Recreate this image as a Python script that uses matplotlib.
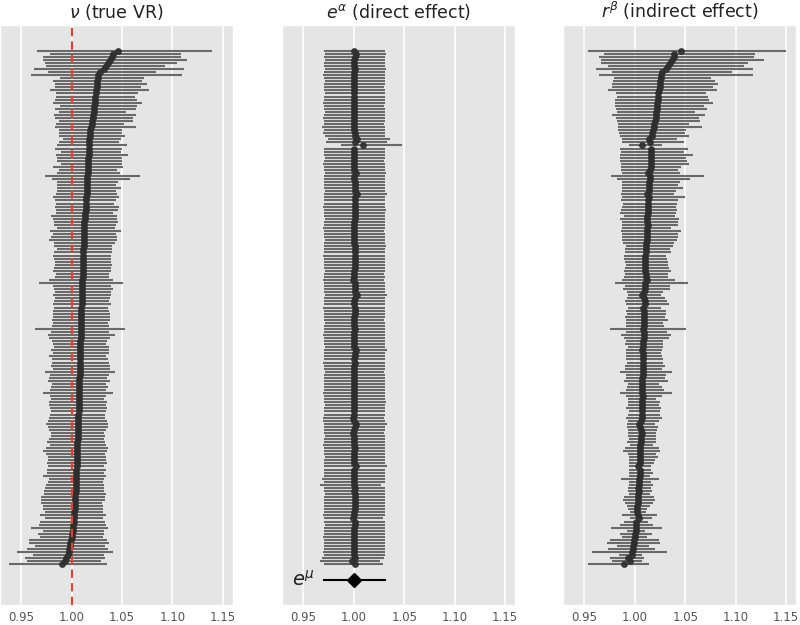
import matplotlib.pyplot as plt
import numpy as np

# nu (true VR): point estimate and interval, one row per unit, top row first
nu = [1.0459, 1.0409, 1.0396, 1.0376, 1.0360, 1.0337, 1.0317, 1.0277, 1.0264, 1.0257,
      1.0254, 1.0251, 1.0248, 1.0244, 1.0241, 1.0234, 1.0231, 1.0228, 1.0224, 1.0221,
      1.0218, 1.0215, 1.0211, 1.0205, 1.0198, 1.0191, 1.0185, 1.0182, 1.0178, 1.0176,
      1.0175, 1.0173, 1.0172, 1.0170, 1.0168, 1.0167, 1.0165, 1.0164, 1.0162, 1.0161,
      1.0158, 1.0157, 1.0155, 1.0154, 1.0152, 1.0151, 1.0149, 1.0148, 1.0145, 1.0144,
      1.0142, 1.0139, 1.0138, 1.0135, 1.0134, 1.0132, 1.0126, 1.0125, 1.0124, 1.0123,
      1.0122, 1.0121, 1.0120, 1.0119, 1.0118, 1.0117, 1.0116, 1.0115, 1.0114, 1.0113,
      1.0112, 1.0111, 1.0110, 1.0109, 1.0108, 1.0107, 1.0106, 1.0105, 1.0104, 1.0103,
      1.0102, 1.0101, 1.0100, 1.0099, 1.0098, 1.0097, 1.0096, 1.0096, 1.0095, 1.0094,
      1.0093, 1.0092, 1.0091, 1.0090, 1.0089, 1.0088, 1.0088, 1.0087, 1.0086, 1.0085,
      1.0084, 1.0083, 1.0082, 1.0081, 1.0081, 1.0080, 1.0079, 1.0078, 1.0077, 1.0077,
      1.0076, 1.0075, 1.0074, 1.0074, 1.0073, 1.0072, 1.0071, 1.0070, 1.0069, 1.0068,
      1.0067, 1.0066, 1.0065, 1.0064, 1.0063, 1.0062, 1.0061, 1.0059, 1.0058, 1.0057,
      1.0056, 1.0055, 1.0054, 1.0053, 1.0052, 1.0051, 1.0050, 1.0048, 1.0046, 1.0045,
      1.0043, 1.0042, 1.0041, 1.0040, 1.0039, 1.0036, 1.0035, 1.0033, 1.0032, 1.0030,
      1.0029, 1.0026, 1.0025, 1.0023, 1.0020, 1.0017, 1.0013, 1.0010, 1.0007, 1.0000,
      0.9993, 0.9987, 0.9980, 0.9974, 0.9970, 0.9964, 0.9947, 0.9934, 0.9901]
nu_lo = [0.966, 0.979, 0.972, 0.972, 0.974, 0.975, 0.963, 0.977, 0.960, 0.988,
         0.982, 0.984, 0.984, 0.979, 0.985, 0.985, 0.984, 0.982, 0.988, 0.984,
         0.987, 0.983, 0.984, 0.987, 0.985, 0.984, 0.987, 0.987, 0.987, 0.991,
         0.987, 0.986, 0.984, 0.989, 0.985, 0.986, 0.986, 0.989, 0.982, 0.987,
         0.986, 0.974, 0.981, 0.986, 0.986, 0.986, 0.986, 0.985, 0.982, 0.984,
         0.985, 0.984, 0.985, 0.985, 0.980, 0.982, 0.983, 0.983, 0.986, 0.979,
         0.982, 0.980, 0.978, 0.983, 0.983, 0.986, 0.983, 0.982, 0.983, 0.984,
         0.984, 0.983, 0.982, 0.985, 0.984, 0.978, 0.968, 0.982, 0.983, 0.984,
         0.982, 0.984, 0.983, 0.982, 0.983, 0.982, 0.982, 0.982, 0.981, 0.982,
         0.981, 0.964, 0.980, 0.977, 0.978, 0.981, 0.982, 0.983, 0.980, 0.982,
         0.978, 0.981, 0.981, 0.980, 0.982, 0.974, 0.979, 0.978, 0.977, 0.981,
         0.980, 0.979, 0.972, 0.979, 0.980, 0.978, 0.978, 0.979, 0.980, 0.979,
         0.978, 0.977, 0.975, 0.977, 0.978, 0.980, 0.980, 0.978, 0.976, 0.979,
         0.975, 0.972, 0.975, 0.977, 0.977, 0.976, 0.977, 0.976, 0.976, 0.972,
         0.978, 0.977, 0.975, 0.974, 0.973, 0.973, 0.970, 0.970, 0.970, 0.972,
         0.972, 0.974, 0.969, 0.974, 0.969, 0.968, 0.960, 0.972, 0.967, 0.969,
         0.958, 0.958, 0.964, 0.956, 0.946, 0.962, 0.954, 0.956, 0.938]
nu_hi = [1.139, 1.108, 1.108, 1.114, 1.104, 1.093, 1.111, 1.084, 1.109, 1.072,
         1.070, 1.075, 1.069, 1.077, 1.066, 1.063, 1.065, 1.070, 1.065, 1.064,
         1.054, 1.064, 1.061, 1.061, 1.052, 1.064, 1.050, 1.050, 1.053, 1.049,
         1.047, 1.055, 1.050, 1.049, 1.056, 1.050, 1.050, 1.050, 1.051, 1.045,
         1.048, 1.068, 1.058, 1.046, 1.044, 1.049, 1.044, 1.045, 1.047, 1.044,
         1.042, 1.047, 1.046, 1.041, 1.045, 1.045, 1.046, 1.044, 1.043, 1.049,
         1.044, 1.045, 1.045, 1.043, 1.040, 1.040, 1.040, 1.039, 1.039, 1.039,
         1.040, 1.039, 1.039, 1.037, 1.037, 1.041, 1.051, 1.039, 1.041, 1.039,
         1.039, 1.038, 1.037, 1.039, 1.036, 1.037, 1.038, 1.038, 1.038, 1.036,
         1.037, 1.053, 1.037, 1.043, 1.038, 1.035, 1.034, 1.037, 1.037, 1.037,
         1.034, 1.036, 1.037, 1.038, 1.038, 1.043, 1.037, 1.035, 1.038, 1.034,
         1.036, 1.034, 1.041, 1.034, 1.032, 1.035, 1.034, 1.035, 1.034, 1.033,
         1.033, 1.035, 1.036, 1.036, 1.034, 1.032, 1.033, 1.032, 1.033, 1.034,
         1.036, 1.035, 1.033, 1.034, 1.034, 1.035, 1.032, 1.034, 1.032, 1.034,
         1.032, 1.031, 1.032, 1.032, 1.032, 1.034, 1.033, 1.033, 1.030, 1.031,
         1.031, 1.031, 1.034, 1.031, 1.033, 1.034, 1.036, 1.032, 1.032, 1.031,
         1.035, 1.037, 1.033, 1.036, 1.041, 1.032, 1.033, 1.029, 1.035]

# e^alpha (direct effect)
ea = [1.000, 1.002, 1.001, 1.000, 1.000, 1.000, 1.001, 1.000, 1.000, 1.000,
      1.000, 1.000, 1.000, 1.000, 1.000, 1.000, 1.000, 1.000, 1.000, 1.000,
      1.000, 1.000, 1.000, 1.000, 1.000, 1.000, 1.000, 1.001, 1.001, 1.0035,
      1.0015, 1.0092, 1.000, 1.000, 1.000, 1.000, 1.000, 1.000, 1.000, 1.000,
      1.0025, 1.000, 1.000, 1.001, 1.001, 1.001, 1.001, 1.003, 1.001, 1.001,
      1.001, 1.001, 1.001, 1.001, 1.001, 1.001, 1.000, 1.000, 1.000, 1.000,
      1.000, 1.000, 1.000, 1.000, 1.001, 1.001, 1.001, 1.001, 1.001, 1.001,
      1.001, 1.001, 1.000, 1.000, 1.000, 0.999, 1.001, 1.001, 1.001, 1.001,
      1.003, 1.001, 1.000, 1.000, 1.001, 1.001, 1.001, 1.000, 1.000, 1.000,
      1.000, 1.001, 1.000, 1.000, 1.000, 1.000, 1.000, 1.000, 1.002, 1.001,
      1.001, 1.000, 1.001, 1.000, 1.000, 1.000, 1.000, 1.000, 1.000, 1.000,
      1.000, 1.000, 1.000, 1.000, 1.000, 1.000, 1.000, 1.000, 1.000, 1.000,
      0.999, 1.000, 1.0025, 1.001, 1.000, 0.999, 1.000, 1.000, 1.000, 1.000,
      1.001, 1.000, 1.000, 1.000, 1.000, 1.000, 1.0017, 1.000, 1.000, 1.000,
      1.000, 1.000, 1.000, 1.001, 1.000, 1.001, 1.001, 1.001, 1.001, 1.001,
      1.001, 1.000, 1.000, 0.9987, 1.001, 1.001, 1.000, 1.000, 1.000, 1.000,
      1.000, 1.000, 1.000, 1.000, 1.000, 1.000, 1.0013, 0.9985, 1.001]
ea_lo = [0.970, 0.971, 0.970, 0.971, 0.970, 0.970, 0.971, 0.970, 0.969, 0.970,
         0.971, 0.970, 0.970, 0.970, 0.971, 0.970, 0.970, 0.969, 0.970, 0.970,
         0.971, 0.970, 0.969, 0.970, 0.970, 0.968, 0.970, 0.969, 0.971, 0.974,
         0.972, 0.987, 0.970, 0.970, 0.970, 0.971, 0.970, 0.969, 0.970, 0.970,
         0.971, 0.970, 0.970, 0.970, 0.970, 0.970, 0.971, 0.970, 0.970, 0.970,
         0.970, 0.969, 0.970, 0.970, 0.970, 0.971, 0.970, 0.970, 0.969, 0.970,
         0.970, 0.970, 0.971, 0.970, 0.970, 0.970, 0.970, 0.969, 0.970, 0.970,
         0.970, 0.970, 0.971, 0.970, 0.970, 0.969, 0.970, 0.970, 0.970, 0.970,
         0.971, 0.970, 0.970, 0.970, 0.969, 0.970, 0.970, 0.970, 0.970, 0.971,
         0.970, 0.970, 0.970, 0.969, 0.970, 0.970, 0.970, 0.971, 0.970, 0.970,
         0.970, 0.970, 0.969, 0.970, 0.970, 0.971, 0.970, 0.970, 0.970, 0.970,
         0.970, 0.970, 0.969, 0.970, 0.970, 0.970, 0.971, 0.970, 0.970, 0.970,
         0.969, 0.969, 0.970, 0.970, 0.970, 0.970, 0.971, 0.970, 0.970, 0.969,
         0.970, 0.970, 0.970, 0.971, 0.970, 0.970, 0.970, 0.970, 0.970, 0.970,
         0.968, 0.970, 0.966, 0.970, 0.970, 0.971, 0.970, 0.970, 0.970, 0.970,
         0.970, 0.970, 0.969, 0.970, 0.970, 0.971, 0.970, 0.970, 0.970, 0.969,
         0.970, 0.970, 0.970, 0.970, 0.969, 0.970, 0.968, 0.966, 0.970]
ea_hi = [1.031, 1.032, 1.031, 1.031, 1.031, 1.031, 1.032, 1.031, 1.031, 1.031,
         1.031, 1.031, 1.030, 1.031, 1.031, 1.031, 1.031, 1.031, 1.030, 1.031,
         1.031, 1.031, 1.031, 1.031, 1.030, 1.031, 1.031, 1.031, 1.031, 1.036,
         1.033, 1.048, 1.031, 1.031, 1.031, 1.031, 1.030, 1.031, 1.031, 1.031,
         1.032, 1.031, 1.031, 1.031, 1.031, 1.031, 1.031, 1.033, 1.031, 1.031,
         1.031, 1.031, 1.032, 1.031, 1.031, 1.031, 1.031, 1.031, 1.031, 1.030,
         1.031, 1.031, 1.031, 1.031, 1.032, 1.031, 1.031, 1.031, 1.031, 1.031,
         1.031, 1.031, 1.031, 1.030, 1.031, 1.030, 1.031, 1.031, 1.031, 1.031,
         1.033, 1.031, 1.031, 1.031, 1.031, 1.031, 1.031, 1.031, 1.030, 1.031,
         1.031, 1.031, 1.031, 1.031, 1.031, 1.031, 1.031, 1.031, 1.033, 1.031,
         1.031, 1.031, 1.031, 1.031, 1.031, 1.030, 1.031, 1.031, 1.031, 1.031,
         1.031, 1.031, 1.031, 1.031, 1.031, 1.032, 1.031, 1.031, 1.031, 1.031,
         1.030, 1.031, 1.033, 1.031, 1.031, 1.030, 1.031, 1.031, 1.031, 1.031,
         1.031, 1.031, 1.031, 1.031, 1.031, 1.031, 1.033, 1.031, 1.031, 1.031,
         1.031, 1.031, 1.027, 1.031, 1.031, 1.031, 1.031, 1.031, 1.031, 1.031,
         1.031, 1.031, 1.031, 1.029, 1.031, 1.031, 1.031, 1.031, 1.031, 1.031,
         1.031, 1.031, 1.031, 1.031, 1.031, 1.031, 1.030, 1.026, 1.029]

# r^beta (indirect effect)
rb = [1.0459, 1.0386, 1.0383, 1.0370, 1.0350, 1.0327, 1.0304, 1.0271, 1.0257, 1.0254,
      1.0251, 1.0248, 1.0244, 1.0241, 1.0231, 1.0228, 1.0224, 1.0221, 1.0218, 1.0215,
      1.0211, 1.0208, 1.0205, 1.0198, 1.0191, 1.0185, 1.0178, 1.0172, 1.0168, 1.0139,
      1.0152, 1.0073, 1.0162, 1.0162, 1.0162, 1.0158, 1.0158, 1.0155, 1.0155, 1.0152,
      1.0132, 1.0145, 1.0145, 1.0142, 1.0142, 1.0139, 1.0139, 1.0119, 1.0135, 1.0132,
      1.0132, 1.0129, 1.0125, 1.0125, 1.0122, 1.0122, 1.0122, 1.0125, 1.0122, 1.0119,
      1.0119, 1.0116, 1.0116, 1.0112, 1.0109, 1.0106, 1.0106, 1.0102, 1.0102, 1.0099,
      1.0099, 1.0099, 1.0102, 1.0106, 1.0109, 1.0116, 1.0096, 1.0099, 1.0096, 1.0089,
      1.0073, 1.0092, 1.0099, 1.0096, 1.0083, 1.0089, 1.0089, 1.0089, 1.0089, 1.0089,
      1.0086, 1.0079, 1.0086, 1.0086, 1.0086, 1.0083, 1.0083, 1.0083, 1.0066, 1.0076,
      1.0076, 1.0079, 1.0076, 1.0076, 1.0076, 1.0076, 1.0076, 1.0073, 1.0073, 1.0073,
      1.0073, 1.0069, 1.0069, 1.0076, 1.0069, 1.0069, 1.0069, 1.0069, 1.0066, 1.0066,
      1.0073, 1.0063, 1.0040, 1.0053, 1.0059, 1.0066, 1.0056, 1.0056, 1.0056, 1.0053,
      1.0046, 1.0050, 1.0050, 1.0050, 1.0050, 1.0050, 1.0033, 1.0046, 1.0046, 1.0046,
      1.0040, 1.0043, 1.0043, 1.0033, 1.0036, 1.0030, 1.0026, 1.0026, 1.0026, 1.0023,
      1.0023, 1.0023, 1.0030, 1.0036, 1.0013, 1.0010, 1.0010, 1.0007, 1.0003, 0.9997,
      0.9990, 0.9987, 0.9983, 0.9980, 0.9974, 0.9970, 0.9934, 0.9947, 0.9891]
rb_lo = [0.953, 0.969, 0.964, 0.966, 0.966, 0.973, 0.961, 0.977, 0.964, 0.979,
         0.978, 0.977, 0.977, 0.973, 0.981, 0.982, 0.980, 0.980, 0.980, 0.981,
         0.982, 0.977, 0.981, 0.982, 0.983, 0.983, 0.983, 0.984, 0.985, 0.987,
         0.987, 0.994, 0.985, 0.986, 0.985, 0.985, 0.985, 0.986, 0.986, 0.986,
         0.987, 0.976, 0.982, 0.987, 0.987, 0.987, 0.987, 0.986, 0.987, 0.986,
         0.988, 0.987, 0.986, 0.985, 0.989, 0.985, 0.987, 0.987, 0.987, 0.986,
         0.987, 0.987, 0.987, 0.988, 0.991, 0.990, 0.990, 0.989, 0.989, 0.990,
         0.991, 0.990, 0.989, 0.990, 0.989, 0.987, 0.980, 0.990, 0.988, 0.992,
         0.993, 0.992, 0.990, 0.991, 0.993, 0.991, 0.992, 0.990, 0.991, 0.991,
         0.991, 0.975, 0.991, 0.986, 0.989, 0.991, 0.990, 0.993, 0.991, 0.991,
         0.991, 0.991, 0.992, 0.990, 0.990, 0.985, 0.991, 0.991, 0.989, 0.993,
         0.992, 0.991, 0.985, 0.991, 0.993, 0.993, 0.993, 0.991, 0.994, 0.993,
         0.991, 0.993, 0.992, 0.992, 0.993, 0.993, 0.993, 0.994, 0.992, 0.995,
         0.990, 0.988, 0.993, 0.994, 0.994, 0.994, 0.994, 0.994, 0.994, 0.994,
         0.986, 0.994, 0.994, 0.993, 0.993, 0.994, 0.989, 0.988, 0.990, 0.992,
         0.993, 0.995, 0.987, 0.995, 0.989, 0.985, 0.976, 0.992, 0.985, 0.987,
         0.975, 0.972, 0.982, 0.973, 0.957, 0.984, 0.975, 0.977, 0.953]
rb_hi = [1.150, 1.119, 1.118, 1.128, 1.112, 1.108, 1.117, 1.096, 1.117, 1.075,
         1.079, 1.082, 1.077, 1.081, 1.070, 1.072, 1.073, 1.077, 1.068, 1.071,
         1.060, 1.069, 1.064, 1.065, 1.054, 1.067, 1.051, 1.050, 1.054, 1.042,
         1.049, 1.027, 1.053, 1.049, 1.058, 1.051, 1.052, 1.054, 1.046, 1.043,
         1.045, 1.068, 1.055, 1.045, 1.043, 1.048, 1.041, 1.039, 1.050, 1.043,
         1.042, 1.041, 1.042, 1.041, 1.040, 1.044, 1.043, 1.043, 1.036, 1.046,
         1.043, 1.043, 1.042, 1.039, 1.038, 1.035, 1.036, 1.031, 1.032, 1.033,
         1.033, 1.034, 1.036, 1.033, 1.033, 1.040, 1.053, 1.035, 1.035, 1.028,
         1.026, 1.030, 1.032, 1.034, 1.026, 1.031, 1.031, 1.030, 1.033, 1.028,
         1.029, 1.051, 1.032, 1.036, 1.034, 1.028, 1.028, 1.028, 1.027, 1.026,
         1.027, 1.028, 1.028, 1.030, 1.027, 1.037, 1.031, 1.030, 1.033, 1.024,
         1.027, 1.029, 1.037, 1.027, 1.021, 1.025, 1.024, 1.026, 1.025, 1.025,
         1.027, 1.024, 1.020, 1.023, 1.022, 1.021, 1.021, 1.021, 1.021, 1.018,
         1.024, 1.025, 1.021, 1.023, 1.020, 1.019, 1.016, 1.016, 1.018, 1.015,
         1.024, 1.016, 1.018, 1.016, 1.017, 1.015, 1.019, 1.020, 1.018, 1.015,
         1.012, 1.011, 1.022, 1.017, 1.013, 1.018, 1.027, 1.010, 1.017, 1.012,
         1.024, 1.025, 1.014, 1.020, 1.032, 1.007, 1.009, 1.007, 1.014]

# overall e^mu
mu, mu_lo, mu_hi = 1.000, 0.9705, 1.0305

xticks = [0.95, 1.00, 1.05, 1.10, 1.15]
titles = [r'$\nu$ (true VR)', r'$e^{\alpha}$ (direct effect)', r'$r^{\beta}$ (indirect effect)']

plt.style.use('ggplot')
fig = plt.figure(figsize=(8, 6.25), dpi=100)
rows = np.arange(len(nu))
mu_row = len(nu) + 4

lefts = [0.0, 282.3 / 800, 563.3 / 800]
axes = [fig.add_axes([l, 20 / 625, 233 / 800, 580 / 625]) for l in lefts]
panels = [(nu, nu_lo, nu_hi), (ea, ea_lo, ea_hi), (rb, rb_lo, rb_hi)]

for ax, (pt, lo, hi), title in zip(axes, panels, titles):
    ax.grid(False)
    for t in xticks:
        ax.axvline(t, color='white', lw=1.2, zorder=0)
    ax.hlines(rows, lo, hi, color='#6a6a6a', lw=1.5, zorder=2)
    ax.plot(pt, rows, 'o', color='#2e2e2e', ms=3.9, alpha=0.9, zorder=3)
    ax.set_xlim(0.929, 1.160)
    ax.set_ylim(len(nu) + 12.3, -8.4)
    ax.set_yticks([])
    ax.set_xticks(xticks)
    ax.set_xticklabels(['%.2f' % t for t in xticks])
    ax.tick_params(axis='x', length=0, pad=4, labelsize=8.5, colors='#555555')
    ax.set_title(title, fontsize=12.5, pad=5, color='#222222')

axes[0].axvline(1.0, color='#e8412b', ls=(0, (4, 2.5)), lw=1.5, zorder=4)

axes[1].plot([mu_lo, mu_hi], [mu_row, mu_row], color='black', lw=1.5, zorder=3)
axes[1].plot([mu], [mu_row], 'D', color='black', ms=7, zorder=4)
axes[1].text(0.961, mu_row, r'$e^{\mu}$', ha='right', va='center', fontsize=14, color='#222222')

fig.savefig('out.png', dpi=100)
